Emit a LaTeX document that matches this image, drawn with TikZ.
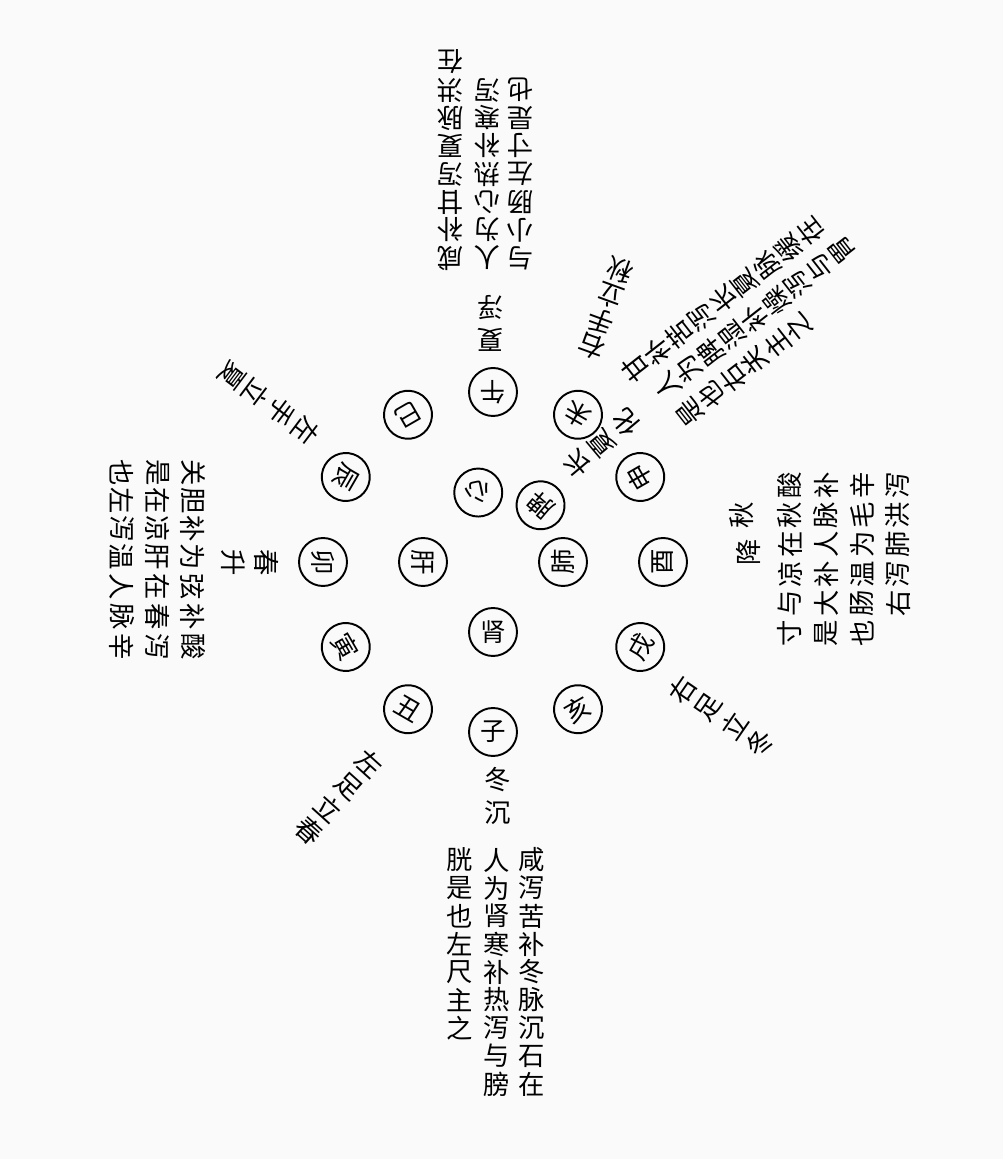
\documentclass[tikz,border=0pt]{standalone}
\usepackage{fontspec}
\newfontfamily\cjk{Noto Sans CJK SC}
\definecolor{paper}{HTML}{FAFAFA}
\tikzset{
  branch/.style={draw,circle,line width=1.1pt,minimum size=0.96cm,inner sep=0pt,font=\cjk\fontsize{14.5}{14.5}\selectfont},
  glyph/.style={inner sep=0pt,font=\cjk\fontsize{15}{15}\selectfont},
}
% #1 direction, #2 offset across, #3 distance of first glyph, #4 glyph step, #5 glyphs
\newcommand{\vcol}[5]{%
  \begin{scope}[shift={(O)},rotate=#1+90,transform shape]
    \foreach \g [count=\k from 0] in {#5}
      \node[glyph] at (#2,{-(#3+\k*#4)}) {\g};
  \end{scope}}

\begin{document}
\begin{tikzpicture}[x=0.02cm,y=0.02cm]
\fill[paper] (0,0) rectangle (1003,1159);
\coordinate (O) at (493,597);
% twelve branches
\foreach \g/\a/\n in {子/270/zi,丑/240/chou,寅/210/yin,卯/180/mao,辰/150/chen,巳/120/si,
  午/90/wu,未/60/wei,申/30/shen,酉/0/you,戌/-30/xu,亥/-60/hai}
  \node[branch,rotate=\a+90] (\n) at ([shift={(\a:170)}]O) {\g};
% five organs
\foreach \g/\a/\r/\n in {肝/180/70/liver,心/102/71/heart,脾/50/74/spleen,肺/0/70/lung,肾/270/70/kidney}
  \node[branch,rotate=\a+90] (\n) at ([shift={(\a:\r)}]O) {\g};
% seasons
\vcol{270}{5}{218}{33}{冬,沉}
\vcol{90}{3}{222}{32}{夏,浮}
\vcol{180}{1}{226}{34}{春,升}
\vcol{0}{47}{249}{0}{秋}
\vcol{0}{10}{255}{0}{降}
\vcol{40}{21}{128}{32}{长,夏,化}
% corners
\vcol{143}{8}{228}{31}{左,手,立,夏}
\vcol{70}{-19}{236}{27}{右,手,立,秋}
\vcol{228}{43}{233}{30}{左,足,立,春}
\vcol{-34.5}{2}{229}{31}{右,足,立,冬}
% winter
\vcol{270}{39}{298}{28}{咸,泻,苦,补,冬,脉,沉,石,在}
\vcol{270}{4}{298}{28}{人,为,肾,寒,补,热,泻,与,膀}
\vcol{270}{-33}{298}{28}{胱,是,也,左,尺,主,之}
% summer
\vcol{90}{43}{304}{28}{咸,补,甘,泻,夏,脉,洪,在}
\vcol{90}{6}{304}{28}{人,为,心,热,补,寒,泻}
\vcol{90}{-27}{304}{28}{与,小,肠,左,寸,是,也}
% autumn
\vcol{0}{77}{297}{36}{酸,补,辛,泻}
\vcol{0}{47}{297}{36}{秋,脉,毛,洪}
\vcol{0}{18}{297}{36}{在,人,为,肺}
\vcol{0}{-12}{297}{36}{凉,补,温,泻}
\vcol{0}{-41}{297}{36}{与,大,肠,右}
\vcol{0}{-71}{297}{36}{寸,是,也}
% spring
\vcol{180}{85}{300}{35.5}{酸,泻,辛}
\vcol{180}{55}{300}{35.5}{补,春,脉}
\vcol{180}{25}{300}{35.5}{弦,在,人}
\vcol{180}{-5}{300}{35.5}{为,肝,温}
\vcol{180}{-33}{300}{35.5}{补,凉,泻}
\vcol{180}{-61}{300}{35.5}{胆,在,左}
\vcol{180}{-89}{300}{35.5}{关,是,也}
% late summer
\vcol{38}{65}{232}{27.7}{甘,补,苦,泻,长,夏,脉,缓,在}
\vcol{38}{31}{245}{27.7}{人,为,脾,湿,补,燥,泻,与,胃}
\vcol{38}{-3}{247}{27.7}{是,也,右,关,主,之}
\end{tikzpicture}
\end{document}
